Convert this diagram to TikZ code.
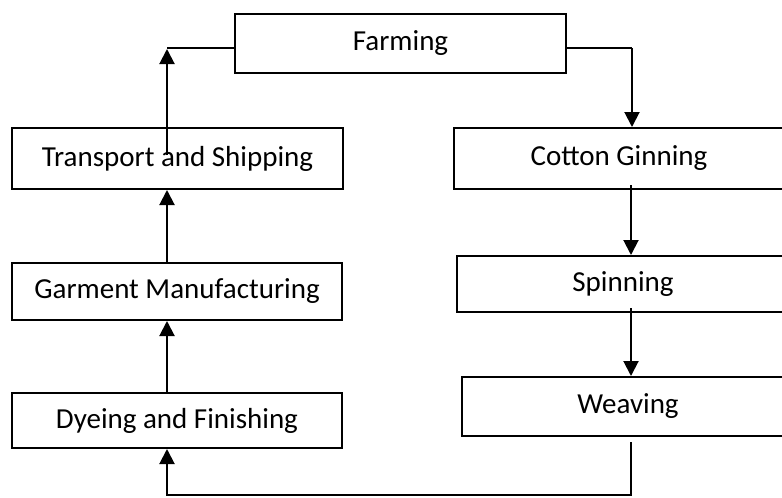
\documentclass[tikz,border=0pt]{standalone}
\usepackage{fontspec}
\setmainfont{Carlito}
\usetikzlibrary{arrows.meta}
\begin{document}
\begin{tikzpicture}[x=1pt,y=-1pt,
  box/.style={draw,line width=2pt,rectangle,inner sep=0pt,font=\fontsize{29}{34}\selectfont},
  conn/.style={line width=2pt},
  arr/.style={line width=2pt,-{Triangle[length=15pt,width=15pt]}}]
\useasboundingbox (0,0) rectangle (782,498);
\node[box,minimum width=331pt,minimum height=59pt] (farm) at (400.5,43.5) {Farming};
\node[box,minimum width=331pt,minimum height=61pt] (trans) at (177.5,158.5) {Transport and Shipping};
\node[box,minimum width=330pt,minimum height=61pt] (cotton) at (619,158.5) {Cotton Ginning};
\node[box,minimum width=330pt,minimum height=57pt] (garm) at (177,291.5) {Garment Manufacturing};
\node[box,minimum width=332pt,minimum height=56pt] (spin) at (623,284) {Spinning};
\node[box,minimum width=330pt,minimum height=55pt] (dye) at (177,420.5) {Dyeing and Finishing};
\node[box,minimum width=332pt,minimum height=59pt] (weave) at (628,406.5) {Weaving};
\coordinate (tl) at (167,48);
\coordinate (tstart) at (167,155);
\coordinate (tr) at (632,48);
\coordinate (cs) at (631,185);
\coordinate (ss) at (631,308);
\coordinate (ws) at (631,442);
\coordinate (wb) at (631,495);
\coordinate (db) at (167,495);
% Farming -> Cotton Ginning
\draw[conn] (farm.east |- tr) -- (tr);
\draw[arr] (tr) -- (tr |- cotton.north);
% Cotton -> Spinning
\draw[arr] (cs) -- (cs |- spin.north);
% Spinning -> Weaving
\draw[arr] (ss) -- (ss |- weave.north);
% Weaving -> Dyeing
\draw[arr] (ws) -- (wb) -- (db) -- (db |- dye.south);
% Dyeing -> Garment
\draw[arr] (db |- dye.north) -- (db |- garm.south);
% Garment -> Transport
\draw[arr] (db |- garm.north) -- (db |- trans.south);
% Transport -> Farming
\draw[arr] (tstart) -- ([yshift=-1pt]tl);
\draw[conn] (farm.west |- tl) -- (tl);
\end{tikzpicture}
\end{document}
